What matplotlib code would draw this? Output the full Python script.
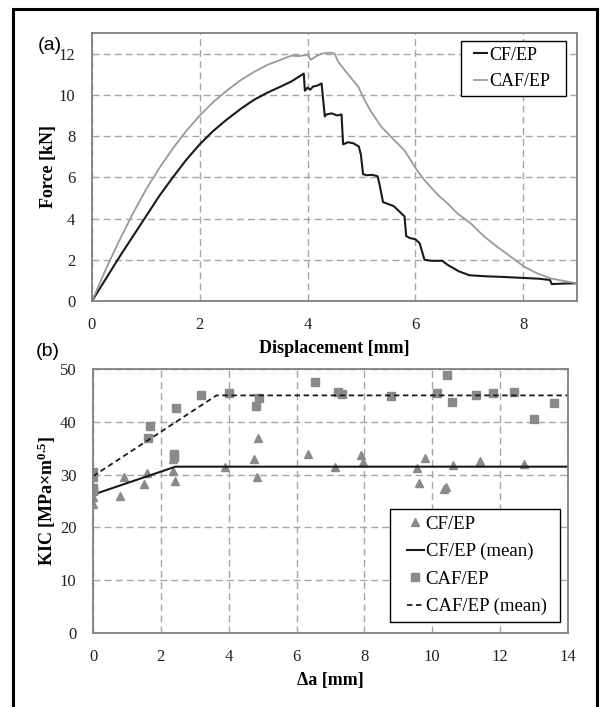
import matplotlib
matplotlib.use("Agg")
import matplotlib.pyplot as plt
from matplotlib.lines import Line2D
from matplotlib.patches import Rectangle

# ---------------- data: (a) force-displacement ----------------
cf_disp = [0.0, 0.25, 0.5, 0.75, 1.0, 1.25, 1.5, 1.75, 2.0, 2.25, 2.5, 2.75, 3.0, 3.25, 3.5, 3.7, 3.93,
           3.95, 4.0, 4.05, 4.1, 4.18, 4.26, 4.32, 4.35, 4.45, 4.55, 4.63, 4.66, 4.75, 4.85, 4.95, 4.99,
           5.03, 5.1, 5.2, 5.3, 5.34, 5.4, 5.5, 5.6, 5.7, 5.8, 5.83, 5.9, 6.0, 6.08, 6.17, 6.3, 6.5,
           6.6, 6.8, 7.0, 7.3, 7.6, 8.0, 8.3, 8.5, 8.53, 8.8, 9.0]
cf_force = [0.0, 1.05, 2.1, 3.1, 4.1, 5.1, 6.0, 6.85, 7.6, 8.25, 8.8, 9.3, 9.75, 10.1, 10.4, 10.65, 11.03,
            10.2, 10.35, 10.25, 10.4, 10.45, 10.55, 8.95, 9.05, 9.1, 9.0, 9.05, 7.6, 7.7, 7.65, 7.5, 7.1,
            6.15, 6.1, 6.12, 6.05, 5.6, 4.8, 4.7, 4.6, 4.35, 4.1, 3.15, 3.05, 3.0, 2.8, 2.0, 1.95, 1.95,
            1.75, 1.45, 1.25, 1.2, 1.17, 1.12, 1.08, 1.02, 0.82, 0.85, 0.86]

caf_disp = [0.0, 0.25, 0.5, 0.75, 1.0, 1.25, 1.5, 1.75, 2.0, 2.25, 2.5, 2.75, 3.0, 3.25, 3.5, 3.7, 3.85,
            4.0, 4.06, 4.14, 4.26, 4.44, 4.5, 4.57, 4.75, 4.94, 5.06, 5.18, 5.37, 5.55, 5.8, 5.92, 6.05,
            6.17, 6.42, 6.6, 6.78, 7.03, 7.28, 7.52, 7.77, 8.02, 8.26, 8.51, 8.76, 9.0]
caf_force = [0.0, 1.5, 2.9, 4.2, 5.4, 6.45, 7.4, 8.25, 9.0, 9.65, 10.2, 10.7, 11.1, 11.45, 11.7, 11.9, 11.88,
             11.95, 11.7, 11.84, 12.0, 12.05, 12.0, 11.6, 11.0, 10.4, 9.74, 9.18, 8.45, 7.96, 7.3, 6.8, 6.27,
             5.86, 5.14, 4.73, 4.25, 3.76, 3.12, 2.63, 2.15, 1.66, 1.34, 1.1, 0.97, 0.86]

# ---------------- data: (b) KIC vs crack growth ----------------
cf_da = [0.0, 0.0, 0.79, 0.9, 1.49, 1.58, 2.37, 2.37, 2.42, 3.89, 4.75, 4.83, 4.87, 6.33, 7.13, 7.9,
         7.95, 9.54, 9.62, 9.78, 10.34, 10.4, 10.6, 11.4, 12.7]
cf_kic = [24.5, 25.7, 25.9, 29.5, 28.2, 30.3, 32.9, 30.7, 28.7, 31.4, 32.9, 29.5, 37.0, 33.9, 31.5, 33.7,
          32.4, 31.3, 28.5, 33.2, 27.2, 27.7, 31.8, 32.6, 32.1]

caf_da = [0.0, 0.0, 0.0, 0.0, 1.61, 1.69, 2.4, 2.4, 2.46, 3.19, 4.02, 4.8, 4.89, 6.53, 7.21, 7.35, 8.79,
          10.15, 10.43, 10.57, 11.28, 11.79, 12.4, 13.0, 13.6]
caf_kic = [30.5, 29.6, 27.4, 26.8, 37.0, 39.2, 33.9, 33.3, 42.7, 45.0, 45.4, 43.0, 44.5, 47.6, 45.7, 45.2,
           44.9, 45.4, 48.8, 43.8, 45.0, 45.4, 45.6, 40.5, 43.5]

cf_mean_x = [0.0, 2.43, 14.0]
cf_mean_y = [26.2, 31.5, 31.5]
caf_mean_x = [0.0, 3.64, 14.0]
caf_mean_y = [29.7, 45.0, 45.0]

# ---------------- style ----------------
plt.rcParams['font.family'] = ['Liberation Serif', 'DejaVu Serif']
plt.rcParams['mathtext.fontset'] = 'custom'
plt.rcParams['mathtext.rm'] = 'Liberation Serif:bold'
plt.rcParams['mathtext.it'] = 'Liberation Serif:bold'
plt.rcParams['mathtext.bf'] = 'Liberation Serif:bold'

W, H = 601, 707
fig = plt.figure(figsize=(W / 100, H / 100), dpi=100)


def rect(x0, y0, x1, y1):
    return [x0 / W, 1 - y1 / H, (x1 - x0) / W, (y1 - y0) / H]


def fx(x):
    return x / W


def fy(y):
    return 1 - y / H


SPINE = '#7f7f7f'
GRID = '#a6a6a6'
TICKC = '#222222'


def style(ax):
    for s in ax.spines.values():
        s.set_color(SPINE)
        s.set_linewidth(1.3)
    ax.grid(True, color=GRID, linestyle=(0, (5, 3)), linewidth=1.0)
    ax.set_axisbelow(True)
    ax.tick_params(axis='y', length=0, pad=12, labelsize=12, colors=TICKC)
    ax.tick_params(axis='x', length=0, pad=11.5, labelsize=12, colors=TICKC)


def legend_box(x0, y0, x1, y1):
    fig.add_artist(Rectangle((fx(x0), fy(y1)), fx(x1) - fx(x0), fy(y0) - fy(y1),
                             transform=fig.transFigure, fill=True, facecolor='white',
                             edgecolor='black', lw=1.0, zorder=3))


# ---- (a) ----
ax1 = fig.add_axes(rect(92, 33, 577, 301))
ax1.plot(cf_disp, cf_force, color='#1a1a1a', lw=1.5, label='CF/EP')
ax1.plot(caf_disp, caf_force, color='#9a9a9a', lw=1.3, label='CAF/EP')
ax1.set_xlim(0, 9)
ax1.set_ylim(0, 13)
ax1.set_xticks([0, 2, 4, 6, 8])
ax1.set_yticks([0, 2, 4, 6, 8, 10, 12])
style(ax1)
ax1.set_xlabel('Displacement [mm]', fontsize=13, fontweight='bold', labelpad=5)
ax1.set_ylabel('Force [kN]', fontsize=13, fontweight='bold', labelpad=1.5)
legend_box(461, 41, 566, 96)
leg1 = fig.legend(*ax1.get_legend_handles_labels(), loc='center left',
                  bbox_to_anchor=(fx(474), fy(68.5)), borderaxespad=0, borderpad=0,
                  fontsize=13, handlelength=0.72, handletextpad=0.1, labelspacing=0.52,
                  frameon=False)
leg1.set_zorder(4)
fig.text(fx(38), fy(46), '(a)', fontsize=14, family='Liberation Sans', va='center', ha='left')

# ---- (b) ----
ax2 = fig.add_axes(rect(93, 369, 568, 633))
ax2.plot(cf_da, cf_kic, linestyle='none', marker='^', ms=6.3, color='#8a8a8a', label='CF/EP')
ax2.plot(cf_mean_x, cf_mean_y, color='#1a1a1a', lw=1.5, label='CF/EP (mean)')
ax2.plot(caf_da, caf_kic, linestyle='none', marker='s', ms=6.0, color='#8a8a8a', label='CAF/EP')
ax2.plot(caf_mean_x, caf_mean_y, color='#1a1a1a', lw=1.3, linestyle=(0, (3, 2)), label='CAF/EP (mean)')
ax2.set_xlim(0, 14)
ax2.set_ylim(0, 50)
ax2.set_xticks(list(range(0, 15, 2)))
ax2.set_yticks([0, 10, 20, 30, 40, 50])
style(ax2)
ax2.set_xlabel('Δa [mm]', fontsize=13, fontweight='bold', labelpad=5)
ax2.set_ylabel('KIC [MPa×m$^{0.5}$]', fontsize=13, fontweight='bold', labelpad=1)
legend_box(390, 509, 560, 622)
leg2 = fig.legend(*ax2.get_legend_handles_labels(), loc='center left',
                  bbox_to_anchor=(fx(407), fy(565.5)), borderaxespad=0, borderpad=0,
                  fontsize=13.5, handlelength=0.9, handletextpad=0.1, labelspacing=0.55,
                  frameon=False, markerscale=0.85)
leg2.set_zorder(4)
fig.text(fx(36), fy(352), '(b)', fontsize=14, family='Liberation Sans', va='center', ha='left')

# ---- outer frame (left, top, right) ----
for xs, ys in [([13, 13], [9, H]), ([13, 597], [9, 9]), ([597, 597], [9, H])]:
    fig.add_artist(Line2D([fx(x) for x in xs], [fy(y) for y in ys],
                          transform=fig.transFigure, color='black', lw=2.2))

fig.savefig('out.png', dpi=100)
